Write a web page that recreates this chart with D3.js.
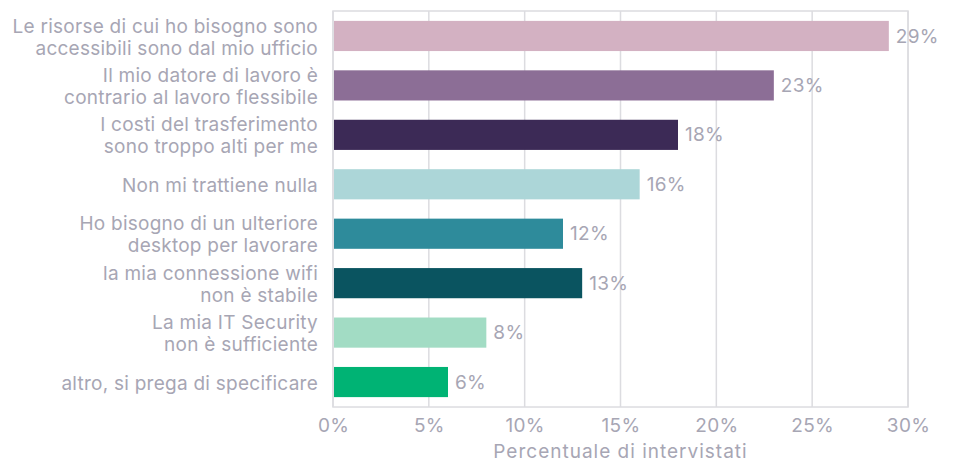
<!DOCTYPE html>
<html>
<head>
<meta charset="utf-8">
<script src="https://cdn.jsdelivr.net/npm/d3@7"></script>
<style>
  html, body { margin: 0; padding: 0; background: #fff; }
  svg { display: block; font-family: Inter, "Noto Sans", sans-serif; }
</style>
</head>
<body>
<svg id="chart" width="961" height="465"></svg>
<script>
// Reasons for not working flexibly, share of respondents (%)
const categories = [
  ["Le risorse di cui ho bisogno sono", "accessibili sono dal mio ufficio"],
  ["Il mio datore di lavoro è", "contrario al lavoro flessibile"],
  ["I costi del trasferimento", "sono troppo alti per me"],
  ["Non mi trattiene nulla"],
  ["Ho bisogno di un ulteriore", "desktop per lavorare"],
  ["la mia connessione wifi", "non è stabile"],
  ["La mia IT Security", "non è sufficiente"],
  ["altro, si prega di specificare"]
];
const values = [29, 23, 18, 16, 12, 13, 8, 6];
const barColors = ["#d3b1c2", "#8c6e96", "#3c2a56", "#acd6d8", "#2e8b9b", "#0a5460", "#a2dcc4", "#00b374"];
const tickValues = [0, 5, 10, 15, 20, 25, 30];
const axisTitle = "Percentuale di intervistati";

const W = 961, H = 465;
const margin = { top: 11, right: 53, bottom: 58, left: 333 };
const textColor = "#a7a6b4";
const gridColor = "#dcdce0";
const fontSize = 19;

const svg = d3.select("#chart");
const g = svg.append("g").attr("transform", `translate(${margin.left},${margin.top})`);
const iw = W - margin.left - margin.right;
const ih = H - margin.top - margin.bottom;

const x = d3.scaleLinear().domain([0, 30]).range([0, iw]);
const y = d3.scaleBand().domain(d3.range(values.length)).range([0, ih]).paddingInner(0.39).paddingOuter(0.2);

// plot frame
g.append("rect")
  .attr("x", 0).attr("y", 0).attr("width", iw).attr("height", ih)
  .attr("fill", "none").attr("stroke", gridColor).attr("stroke-width", 1.5);

// vertical grid lines
g.selectAll(".grid").data(tickValues).join("line")
  .attr("x1", d => x(d)).attr("x2", d => x(d))
  .attr("y1", 0).attr("y2", ih)
  .attr("stroke", gridColor).attr("stroke-width", 1.5);

// bars
g.selectAll(".bar").data(values).join("rect")
  .attr("x", 1)
  .attr("y", (d, i) => y(i))
  .attr("width", d => x(d) - 1)
  .attr("height", y.bandwidth())
  .attr("fill", (d, i) => barColors[i]);

// value labels
g.selectAll(".val").data(values).join("text")
  .attr("x", d => x(d) + 7)
  .attr("y", (d, i) => y(i) + y.bandwidth() / 2)
  .attr("dy", "0.35em")
  .attr("fill", textColor)
  .attr("font-size", fontSize)
  .attr("letter-spacing", 0.3)
  .text(d => d + "%");

// category labels
const lineH = 22;
g.selectAll(".cat").data(categories).join("text")
  .attr("text-anchor", "end")
  .attr("fill", textColor)
  .attr("font-size", fontSize)
  .attr("letter-spacing", 0.25)
  .each(function (lines, i) {
    const cy = y(i) + y.bandwidth() / 2 + 1;
    const t = d3.select(this);
    lines.forEach((ln, k) => {
      t.append("tspan")
        .attr("x", -15)
        .attr("y", cy + (k - (lines.length - 1) / 2) * lineH)
        .attr("dy", "0.35em")
        .text(ln);
    });
  });

// x axis
const xAxis = d3.axisBottom(x).tickValues(tickValues).tickFormat(d => d + "%").tickSize(0).tickPadding(12);
const ax = g.append("g").attr("transform", `translate(0,${ih})`).call(xAxis);
ax.select(".domain").remove();
ax.selectAll("text")
  .attr("fill", textColor)
  .attr("font-size", fontSize)
  .attr("letter-spacing", 0.3)
  .attr("font-family", "Inter, 'Noto Sans', sans-serif");

// axis title
g.append("text")
  .attr("x", iw / 2).attr("y", ih + 51)
  .attr("text-anchor", "middle")
  .attr("fill", textColor)
  .attr("font-size", fontSize)
  .attr("letter-spacing", 1)
  .text(axisTitle);
</script>
</body>
</html>
